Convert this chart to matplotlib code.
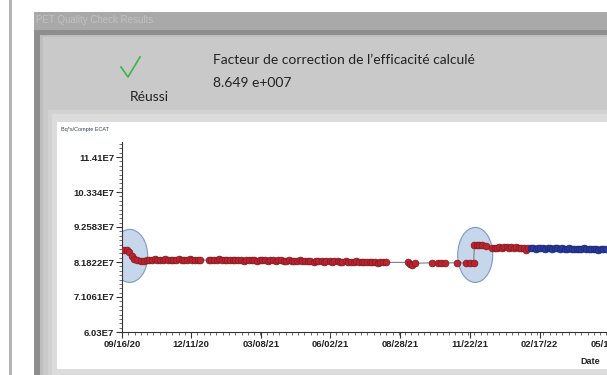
import matplotlib
matplotlib.use("Agg")
import matplotlib.pyplot as plt
import matplotlib.dates as mdates
from matplotlib.patches import Rectangle, Ellipse
from matplotlib.lines import Line2D
from matplotlib.ticker import FixedLocator, FixedFormatter, AutoMinorLocator
import pandas as pd

# ---------------- data ----------------
start_date = "2020-09-16"

# red series, day offsets from start_date and values (x 1E7)
red_days_a = [3, 6, 9, 12, 15, 19, 23, 27, 31, 34, 37, 41, 44, 47, 51, 54, 57, 61, 64, 67,
              71, 74, 77, 81, 84, 87, 91, 94, 97]
red_vals_a = [8.56, 8.54, 8.48, 8.36, 8.27, 8.24, 8.22, 8.20, 8.23, 8.25, 8.24, 8.26, 8.24, 8.23, 8.25, 8.26, 8.24, 8.23, 8.25, 8.24,
              8.26, 8.25, 8.23, 8.24, 8.26, 8.24, 8.23, 8.25, 8.24]

red_days_b = [108, 111, 114, 118, 121, 124, 128, 131, 134, 138,
              141, 144, 148, 151, 154, 158, 161, 164, 168, 171,
              174, 178, 181, 184, 188, 191, 194, 198, 201, 204,
              208, 211, 214, 218, 221, 224, 228, 231, 234, 238,
              241, 244, 248, 251, 254, 258, 261, 264, 268, 271,
              274, 278, 281, 284, 288, 291, 294, 298, 301, 304,
              308, 311, 314, 318, 321, 324, 328]
red_vals_b = [8.24, 8.25, 8.23, 8.24, 8.26, 8.24, 8.23, 8.25, 8.24, 8.23,
              8.24, 8.25, 8.23, 8.22, 8.24, 8.25, 8.23, 8.24, 8.22, 8.23,
              8.25, 8.23, 8.22, 8.24, 8.23, 8.21, 8.23, 8.24, 8.22, 8.21,
              8.23, 8.22, 8.20, 8.22, 8.23, 8.21, 8.20, 8.22, 8.21, 8.19,
              8.21, 8.22, 8.20, 8.19, 8.21, 8.20, 8.18, 8.20, 8.21, 8.19,
              8.18, 8.20, 8.19, 8.17, 8.19, 8.20, 8.18, 8.17, 8.19, 8.18,
              8.17, 8.19, 8.18, 8.16, 8.18, 8.19, 8.17]

red_days_c = [355, 358, 361, 364, 385, 393, 397, 401, 416, 427, 433, 437]
red_vals_c = [8.17, 8.12, 8.10, 8.14, 8.16, 8.15, 8.16, 8.15, 8.16, 8.15, 8.14, 8.15]

red_days_d = [438, 441, 444, 448, 452,
              460, 463, 466, 469, 472, 475, 478, 481, 484, 487, 490, 493, 496, 499, 502, 505]
red_vals_d = [8.71, 8.72, 8.70, 8.69, 8.66,
              8.61, 8.62, 8.60, 8.63, 8.62, 8.64, 8.63, 8.61, 8.64, 8.62, 8.63, 8.61, 8.62, 8.60, 8.56, 8.60]

blue_days = [508, 511, 514, 517, 520, 523, 526, 529, 532, 535, 538, 541, 544, 547, 550, 553,
             556, 559, 562, 565, 568, 571, 574, 577, 580, 583, 586, 589, 592, 595, 598, 601]
blue_vals = [8.60, 8.61, 8.59, 8.60, 8.62, 8.60, 8.59, 8.61, 8.60, 8.58, 8.60, 8.61, 8.59, 8.60, 8.58, 8.59,
             8.60, 8.58, 8.59, 8.57, 8.59, 8.58, 8.60, 8.57, 8.58, 8.59, 8.57, 8.58, 8.56, 8.58, 8.57, 8.58]

x_tick_labels = ["09/16/20", "12/11/20", "03/08/21", "06/02/21", "08/28/21", "11/22/21", "02/17/22", "05/14/22"]
y_ticks = [6.03, 7.1061, 8.1822, 9.2583, 10.334, 11.41]
y_tick_labels = ["6.03E7", "7.1061E7", "8.1822E7", "9.2583E7", "10.334E7", "11.41E7"]

header_text = "Facteur de correction de l\u2019efficacit\u00e9 calcul\u00e9"
value_text = "8.649 e+007"
status_text = "R\u00e9ussi"
window_title = "PET Quality Check Results"
y_unit = "Bq*s/Compte ECAT"
x_label = "Date"

# ---------------- figure ----------------
W, H = 607, 375
fig = plt.figure(figsize=(W / 100, H / 100), dpi=100)
fig.patch.set_facecolor("white")


def px_rect(x0, y0, x1, y1, color, z=-10):
    fig.add_artist(Rectangle((x0 / W, 1 - y1 / H), (x1 - x0) / W, (y1 - y0) / H,
                             transform=fig.transFigure, facecolor=color,
                             edgecolor="none", zorder=z))


def px_text(x, y, s, **kw):
    fig.text(x / W, 1 - y / H, s, **kw)


# left strip line
px_rect(9, 0, 12, H, "#b4b4b4")
# window
px_rect(34, 12, W, H, "#a9a9a9", z=-9)
px_rect(34, 30, W, H, "#8e8e8e", z=-8)
px_rect(40, 35, W, H, "#bdbdbd", z=-7)
px_rect(43, 37, W, H, "#c9c9c9", z=-6)
px_rect(48, 110, W, H, "#d2d2d2", z=-5)
px_rect(52, 114, W, H, "#dcdcdc", z=-4)
px_rect(57, 122, W, 369, "white", z=-3)

px_text(36, 20, window_title, fontsize=7, color="#c2c2c2", va="center", ha="left",
        family="Liberation Sans")

# check mark
fig.add_artist(Line2D([121 / W, 128 / W, 140 / W], [1 - 67 / H, 1 - 77 / H, 1 - 57 / H],
                      transform=fig.transFigure, color="#3bb54a", lw=1.2, zorder=5))
px_text(130, 97, status_text, fontsize=10, color="#222222", va="center", ha="left", family="Lato")
px_text(213, 60, header_text, fontsize=10, color="#222222", va="center", ha="left", family="Lato")
px_text(213, 83, value_text, fontsize=10, color="#222222", va="center", ha="left", family="Lato")

narrow = ["Liberation Sans Narrow", "Liberation Sans"]
px_text(61, 129, y_unit, fontsize=4, color="#34405a", va="center", ha="left", family=narrow)
px_text(590, 361, x_label, fontsize=6.5, color="#222222", va="center", ha="center",
        family=narrow, fontweight="bold")

# ---------------- axes ----------------
days_per_px = 86 / 69.2
ax_left, ax_right, ax_top, ax_bottom = 122, 650, 142, 332
ax = fig.add_axes([ax_left / W, 1 - ax_bottom / H, (ax_right - ax_left) / W, (ax_bottom - ax_top) / H])
ax.set_facecolor("none")

base = pd.Timestamp(start_date)


def to_dates(days):
    return mdates.date2num((base + pd.to_timedelta(days, unit="D")).to_pydatetime())


red_days = red_days_a + red_days_b + red_days_c + red_days_d
red_vals = red_vals_a + red_vals_b + red_vals_c + red_vals_d
all_x = list(to_dates(red_days)) + list(to_dates(blue_days))
all_y = red_vals + blue_vals

ax.plot(all_x, all_y, color="#808080", lw=0.8, zorder=2)
ax.plot(to_dates(red_days), red_vals, ls="none", marker="o", ms=4.8,
        mfc="#bb2530", mec="#8a1a22", mew=0.6, zorder=3)
ax.plot(to_dates(blue_days), blue_vals, ls="none", marker="o", ms=4.8,
        mfc="#2a3aa0", mec="#1c2a78", mew=0.6, zorder=3)

x0 = mdates.date2num(base.to_pydatetime())
ax.set_xlim(x0, x0 + (ax_right - ax_left) * days_per_px)
y_px = (8.1822 - 6.03) / (332 - 262)
ax.set_ylim(6.03, 6.03 + (ax_bottom - ax_top) * y_px)

# highlight ellipses
ax.add_patch(Ellipse((x0 + 9.5, 8.37), 36 * days_per_px, 53 * y_px,
                     facecolor="#c6d7ec", edgecolor="#7d98be", lw=0.8, zorder=1))
ax.add_patch(Ellipse((x0 + 439, 8.40), 35 * days_per_px, 55 * y_px,
                     facecolor="#c6d7ec", edgecolor="#7d98be", lw=0.8, zorder=1))

xt = mdates.date2num(pd.to_datetime(x_tick_labels, format="%m/%d/%y").to_pydatetime())
ax.xaxis.set_major_locator(FixedLocator(xt))
ax.xaxis.set_major_formatter(FixedFormatter(x_tick_labels))
ax.xaxis.set_minor_locator(AutoMinorLocator(11))
ax.yaxis.set_major_locator(FixedLocator(y_ticks))
ax.yaxis.set_major_formatter(FixedFormatter(y_tick_labels))
ax.yaxis.set_minor_locator(AutoMinorLocator(8))

for s in ["top", "right"]:
    ax.spines[s].set_visible(False)
for s in ["left", "bottom"]:
    ax.spines[s].set_linewidth(0.8)
    ax.spines[s].set_color("#333333")

ax.tick_params(which="major", length=4, width=0.8, color="#333333", labelsize=6.8, pad=1.5,
               labelcolor="#222222")
ax.tick_params(which="minor", length=2, width=0.6, color="#555555")
for lab in ax.get_xticklabels() + ax.get_yticklabels():
    lab.set_fontfamily(narrow)
    lab.set_fontweight("bold")

fig.savefig("out.png", dpi=100)
